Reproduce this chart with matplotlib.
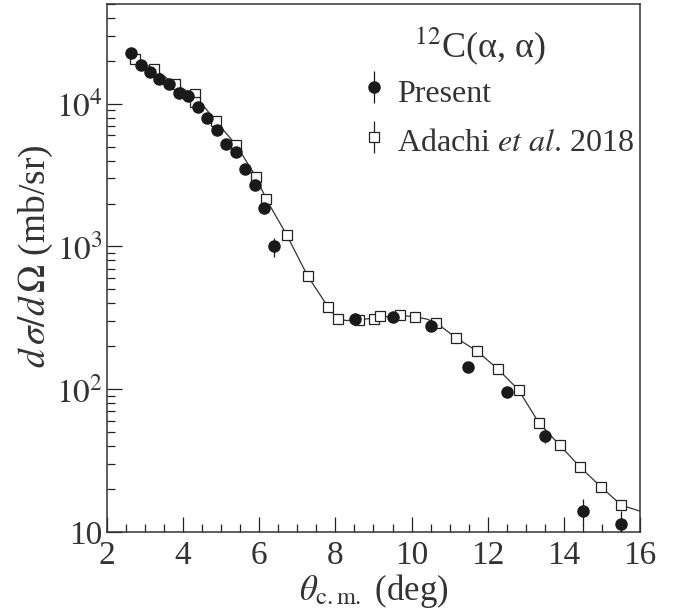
import matplotlib
matplotlib.use("Agg")
import matplotlib.pyplot as plt
from matplotlib.ticker import FixedLocator, MultipleLocator, FuncFormatter, LogLocator, NullFormatter

plt.rcParams['font.family'] = ['Liberation Serif', 'DejaVu Serif']
plt.rcParams['mathtext.fontset'] = 'stix'

# Present data
present_theta = [2.63, 2.885, 3.13, 3.37, 3.64, 3.89, 4.14, 4.38, 4.63, 4.88, 5.13, 5.38, 5.63,
                 5.88, 6.12, 6.38, 8.51, 9.51, 10.51, 11.49, 12.50, 13.50, 14.50, 15.50]
present_xs = [22600, 18600, 16650, 15000, 13800, 11900, 11300, 9460, 7960, 6590, 5210, 4620, 3500,
              2700, 1860, 1000, 311, 323, 278, 144, 96.2, 47.3, 14.0, 11.4]
present_err = [400, 350, 300, 280, 260, 230, 220, 190, 160, 140, 110, 100, 80,
               70, 60, 150, 8, 8, 8, 5, 7, 5.5, 3.0, 2.6]

# Adachi et al. 2018
adachi_theta = [2.735, 3.24, 3.79, 4.32, 4.32, 4.85, 5.39, 5.91, 6.18, 6.72, 7.27, 7.81, 8.07,
                8.62, 9.02, 9.16, 9.70, 10.10, 10.64, 11.18, 11.72, 12.26, 12.81, 13.35, 13.89,
                14.43, 14.97, 15.51]
adachi_xs = [20500, 17580, 13720, 11730, 10360, 7590, 5150, 3090, 2157, 1205, 622, 376, 309,
             306, 312, 325, 331, 321, 293, 228, 185, 139.5, 99.4, 57.8, 40.7, 28.4, 20.8, 15.4]
adachi_err = [v * 0.02 for v in adachi_xs]

# Calculation curve
curve_theta = [2.73, 3.24, 3.79, 4.32, 4.85, 5.39, 5.91, 6.18, 6.72, 7.27, 7.81, 8.07, 8.3, 8.62,
               9.02, 9.4, 9.7, 10.1, 10.4, 10.64, 11.18, 11.72, 12.26, 12.81, 13.35, 13.89, 14.43,
               14.97, 15.51, 16.0]
curve_xs = [20500, 17500, 13700, 11400, 7600, 5150, 3090, 2150, 1205, 622, 376, 309, 303, 307,
            315, 324, 329, 322, 310, 293, 228, 185, 139, 99, 57.8, 40.7, 28.4, 20.8, 15.4, 14.0]

fig = plt.figure(figsize=(6.82, 6.11), dpi=100)
ax = fig.add_axes([0.1569, 0.1293, 0.7815, 0.8642])

ax.plot(curve_theta, curve_xs, '-', color='#333333', lw=0.9, zorder=2)
h2 = ax.errorbar(adachi_theta, adachi_xs, yerr=adachi_err, fmt='s', ms=6.5, mfc='white',
                 mec='#222222', mew=0.9, ecolor='#222222', elinewidth=0.9, capsize=0, zorder=3,
                 label=r'Adachi $\mathit{et\ al.}\,$2018')
h1 = ax.errorbar(present_theta, present_xs, yerr=present_err, fmt='o', ms=8, mfc='#1a1a1a',
                 mec='#1a1a1a', ecolor='#1a1a1a', elinewidth=0.9, capsize=0, zorder=4,
                 label='Present')

ax.set_yscale('log')
ax.set_xlim(2, 16)
ax.set_ylim(10, 5e4)

ax.xaxis.set_major_locator(MultipleLocator(2))
ax.xaxis.set_minor_locator(MultipleLocator(0.5))
ax.yaxis.set_major_locator(FixedLocator([10, 100, 1000, 10000]))
ax.yaxis.set_minor_locator(LogLocator(base=10, subs=range(2, 10)))
ax.yaxis.set_minor_formatter(NullFormatter())

def yfmt(v, pos):
    import math
    e = int(round(math.log10(v)))
    if e == 1:
        return '10'
    return r'$10^{%d}$' % e

ax.yaxis.set_major_formatter(FuncFormatter(yfmt))

ax.tick_params(which='both', direction='in', top=False, right=False, labelsize=24,
               color='#222222', width=0.9, labelcolor='#333333')
ax.tick_params(which='major', length=11)
ax.tick_params(which='minor', length=6)
ax.tick_params(axis='x', pad=6)
ax.tick_params(axis='y', pad=3)

for s in ax.spines.values():
    s.set_linewidth(1.1)
    s.set_color('#333333')

ax.set_xlabel(r'$\theta_{\mathrm{c.m.}}$ (deg)', fontsize=25, labelpad=1, color='#333333')
ax.set_ylabel(r'$d\,\sigma/d\,\mathit{\Omega}$ (mb/sr)', fontsize=27, color='#333333')
ax.yaxis.set_label_coords(-0.098, 0.523)

ax.text(0.70, 0.92, r'$^{12}$C(α, α)', transform=ax.transAxes, fontsize=26,
        ha='center', va='center', color='#333333')

leg = ax.legend(handles=[h1, h2], loc='upper left', bbox_to_anchor=(0.4537, 0.8945),
                frameon=False, fontsize=23, handlelength=0.8, handletextpad=0.3,
                labelspacing=0.4, borderaxespad=0, handleheight=1.4)
for t in leg.get_texts():
    t.set_color('#333333')

fig.savefig('out.png', dpi=100)
